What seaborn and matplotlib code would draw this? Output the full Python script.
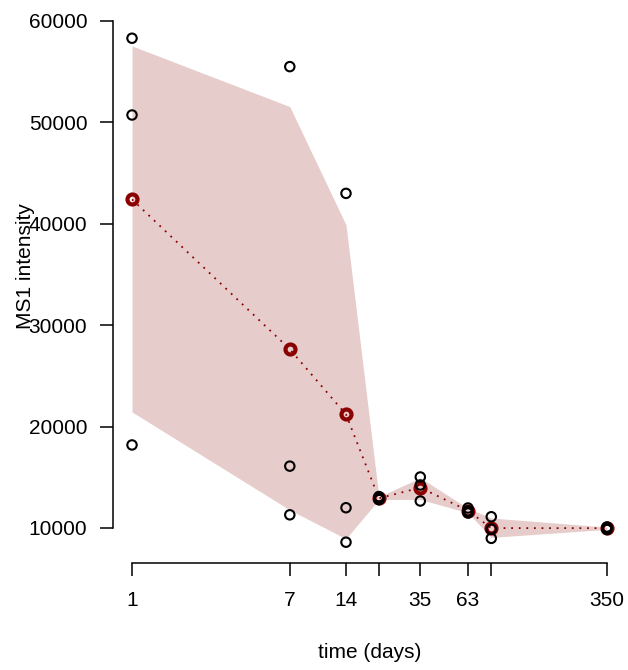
import matplotlib
matplotlib.use("Agg")
import matplotlib.pyplot as plt
import numpy as np
import pandas as pd
import seaborn as sns

# raw MS1 intensities, three replicates per time point
days = [1, 7, 14, 21, 35, 63, 84, 350]
rep1 = [58300, 55500, 43000, 13100, 15030, 11970, 11110, 10100]
rep2 = [50730, 16100, 12000, 12900, 14240, 11680, 9880, 10000]
rep3 = [18190, 11300, 8600, 12800, 12660, 11480, 8980, 9850]

tick_days = [1, 7, 14, 21, 35, 63, 84, 350]
tick_labels = ["1", "7", "14", "", "35", "63", "", "350"]
y_ticks = [10000, 20000, 30000, 40000, 50000, 60000]

df = pd.DataFrame({
    "day": np.repeat(days, 3),
    "intensity": np.column_stack([rep1, rep2, rep3]).ravel(),
})

sns.set_theme(style="ticks")
plt.rcParams["font.family"] = ["Liberation Sans", "DejaVu Sans"]

fig = plt.figure(figsize=(6.28, 6.7), dpi=100)
ax = fig.add_axes([113 / 628, 107 / 670, 513 / 628, 547 / 670])
ax.set_xscale("log")

# mean line + 5-95 percentile band
sns.lineplot(
    data=df, x="day", y="intensity", ax=ax,
    estimator="mean", errorbar=("pi", 90),
    color="#8B0000", linestyle=(0, (1, 3.2)), linewidth=1.3,
    marker="o", markersize=7.2, markerfacecolor="none",
    markeredgecolor="#8B0000", markeredgewidth=3.0,
    err_kws={"alpha": 0.2, "linewidth": 0},
)

# replicates
sns.scatterplot(
    data=df, x="day", y="intensity", ax=ax,
    marker="o", s=46, facecolors="none", edgecolor="black", linewidth=1.5,
    zorder=5,
)

ax.set_xlim(0.791, 442.4)
ax.set_ylim(6548, 60493)

ax.set_xticks(tick_days)
ax.set_xticklabels(tick_labels)
ax.xaxis.set_minor_locator(matplotlib.ticker.NullLocator())
ax.set_yticks(y_ticks)
ax.set_yticklabels([str(v) for v in y_ticks])

for s in ["top", "right"]:
    ax.spines[s].set_visible(False)
ax.spines["left"].set_bounds(10000, 60000)
ax.spines["bottom"].set_bounds(1, 350)
for s in ["left", "bottom"]:
    ax.spines[s].set_linewidth(1.1)
    ax.spines[s].set_color("black")

ax.tick_params(axis="both", which="major", length=9.5, width=1.1, color="black",
               labelsize=15, labelcolor="black")
ax.tick_params(axis="y", pad=9)
ax.tick_params(axis="x", pad=11)

ax.set_xlabel("time (days)", fontsize=15, color="black")
ax.set_ylabel("MS1 intensity", fontsize=15, color="black")
ax.xaxis.set_label_coords(0.5, -0.163)
ax.xaxis.label.set_va("center")
ax.yaxis.set_label_coords(-0.171, 0.543)
ax.yaxis.label.set_va("center")

fig.savefig("out.png", dpi=100)
